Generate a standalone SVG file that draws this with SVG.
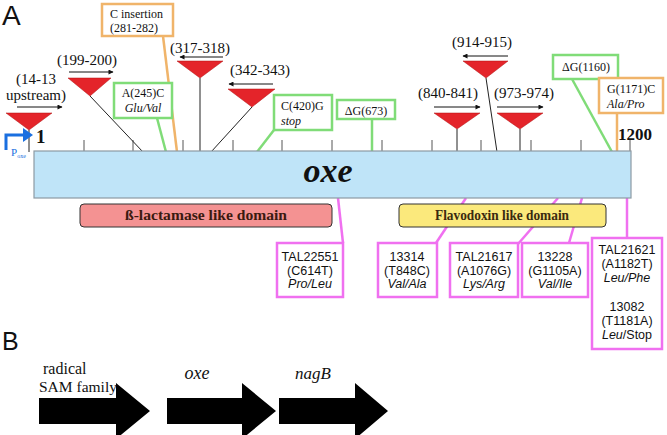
<svg xmlns="http://www.w3.org/2000/svg" width="667" height="435" viewBox="0 0 667 435">
<defs>
<marker id="ah" viewBox="0 0 10 10" refX="9" refY="5" markerWidth="6" markerHeight="5" orient="auto" markerUnits="userSpaceOnUse">
<path d="M0,0 L10,5 L0,10 z" fill="#111"/>
</marker>
<style>
.lbl{font-family:"Liberation Serif",serif;font-size:15px;fill:#111;text-anchor:middle}
.bx{font-family:"Liberation Serif",serif;font-size:12px;fill:#111}
.it{font-style:italic}
.sans{font-family:"Liberation Sans",Arial,sans-serif;font-size:12.5px;fill:#111;text-anchor:middle}
.tri{fill:#e4242a;stroke:#b01010;stroke-width:0.5}
.stem{stroke:#222;stroke-width:1;fill:none}
.tick{stroke:#555;stroke-width:1}
.arr{stroke:#111;stroke-width:1;fill:none;marker-end:url(#ah)}
.gb{fill:#fff;stroke:#80dc78;stroke-width:2.5}
.ob{fill:#fff;stroke:#f0b46a;stroke-width:2.5}
.pb{fill:#fff;stroke:#f070f0;stroke-width:2.5}
.gl{stroke:#80dc78;stroke-width:2.5;fill:none}
.ol{stroke:#f0b46a;stroke-width:2.5;fill:none}
.pl{stroke:#f070f0;stroke-width:2.5;fill:none}
.big{fill:#000}
</style>
</defs>
<rect width="667" height="435" fill="#fff"/>
<text x="2" y="25" font-family="Liberation Sans,Arial,sans-serif" font-size="28" fill="#111">A</text>
<text x="2" y="350" font-family="Liberation Sans,Arial,sans-serif" font-size="25" fill="#111">B</text>

<g id="connectors">
<line class="tick" x1="84" y1="140" x2="84" y2="152"/>
<line class="tick" x1="133" y1="140" x2="133" y2="152"/>
<line class="tick" x1="183" y1="140" x2="183" y2="152"/>
<line class="tick" x1="233" y1="140" x2="233" y2="152"/>
<line class="tick" x1="282" y1="140" x2="282" y2="152"/>
<line class="tick" x1="332" y1="140" x2="332" y2="152"/>
<line class="tick" x1="382" y1="140" x2="382" y2="152"/>
<line class="tick" x1="432" y1="140" x2="432" y2="152"/>
<line class="tick" x1="481" y1="140" x2="481" y2="152"/>
<line class="tick" x1="531" y1="140" x2="531" y2="152"/>
<line class="tick" x1="581" y1="140" x2="581" y2="152"/>
<line class="tick" x1="630" y1="140" x2="630" y2="152"/>
<line class="stem" x1="29" y1="130" x2="29" y2="152"/>
<line class="stem" x1="90" y1="96" x2="143" y2="152"/>
<line class="stem" x1="200" y1="78" x2="200" y2="152"/>
<line class="stem" x1="252" y1="107" x2="211" y2="152"/>
<line class="stem" x1="457" y1="129" x2="457" y2="152"/>
<line class="stem" x1="486" y1="78" x2="497" y2="152"/>
<line class="stem" x1="520" y1="129" x2="520" y2="152"/>
<line class="ol" x1="163" y1="36" x2="177" y2="152"/>
<line class="gl" x1="157" y1="118" x2="166" y2="152"/>
<line class="gl" x1="274" y1="130" x2="257" y2="152"/>
<line class="gl" x1="372" y1="119" x2="372" y2="152"/>
<line class="gl" x1="572" y1="79" x2="612" y2="152"/>
<line class="ol" x1="617" y1="113" x2="617" y2="152"/>
<line class="pl" x1="338" y1="198" x2="343" y2="243"/>
<line class="pl" x1="466" y1="198" x2="436" y2="243"/>
<line class="pl" x1="558" y1="198" x2="518" y2="244"/>
<line class="pl" x1="582" y1="198" x2="569" y2="243"/>
<line class="pl" x1="627" y1="198" x2="627" y2="238"/>
<line class="arr" x1="17" y1="107" x2="62" y2="107"/>
<line class="arr" x1="69" y1="72" x2="113" y2="72"/>
<line class="arr" x1="223" y1="57" x2="180" y2="57"/>
<line class="arr" x1="273" y1="84" x2="229" y2="84"/>
<line class="arr" x1="434" y1="107" x2="480" y2="107"/>
<line class="arr" x1="508" y1="56" x2="463" y2="56"/>
<line class="arr" x1="497" y1="107" x2="543" y2="107"/>
</g>

<g id="gene-oxe">
<rect x="34" y="151" width="597" height="47" fill="#bfe4f8" stroke="#8d9aa3" stroke-width="1.2"/>
<text x="328" y="182" font-family="Liberation Serif,serif" font-size="34" font-weight="bold" font-style="italic" text-anchor="middle" fill="#111">oxe</text>
<text x="36" y="143" font-family="Liberation Serif,serif" font-size="19" font-weight="bold" fill="#111">1</text>
<text x="618" y="140" font-family="Liberation Serif,serif" font-size="17" font-weight="bold" fill="#111">1200</text>
</g>

<g id="promoter">
<path d="M6,150 L6,135 L24,135" stroke="#1a6fe0" stroke-width="3" fill="none"/>
<path d="M23,128 L33,135 L23,142 z" fill="#1a6fe0"/>
<text x="11" y="156" font-family="Liberation Serif,serif" font-size="11" fill="#1a6fe0">P<tspan font-size="6" dy="2">oxe</tspan></text>
</g>

<g id="domain-lactamase">
<rect x="80" y="204" width="252" height="23" rx="4" fill="#f49292" stroke="#333" stroke-width="1"/>
<text x="206" y="220" font-family="Liberation Serif,serif" font-size="15" font-weight="bold" fill="#3a1a10" text-anchor="middle" textLength="162" lengthAdjust="spacingAndGlyphs">ß-lactamase like domain</text>
</g>
<g id="domain-flavodoxin">
<rect x="399" y="204" width="207" height="23" rx="4" fill="#fbe97c" stroke="#333" stroke-width="1"/>
<text x="502" y="220" font-family="Liberation Serif,serif" font-size="14" font-weight="bold" fill="#3a2a10" text-anchor="middle" textLength="134" lengthAdjust="spacingAndGlyphs">Flavodoxin like domain</text>
</g>

<g id="ins-14-13">
<path class="tri" d="M6,113 L52,113 L29,130 z"/>
<text class="lbl" x="36" y="84">(14-13</text>
<text class="lbl" x="36" y="100" font-size="12">upstream)</text>
</g>
<g id="ins-199-200">
<path class="tri" d="M68,78 L111,78 L90,96 z"/>
<text class="lbl" x="87" y="65">(199-200)</text>
</g>
<g id="ins-317-318">
<path class="tri" d="M177,61 L223,61 L200,78 z"/>
<text class="lbl" x="200" y="53">(317-318)</text>
</g>
<g id="ins-342-343">
<path class="tri" d="M228,89 L275,89 L252,107 z"/>
<text class="lbl" x="260" y="75">(342-343)</text>
</g>
<g id="ins-840-841">
<path class="tri" d="M434,113 L480,113 L457,129 z"/>
<text class="lbl" x="448" y="98">(840-841)</text>
</g>
<g id="ins-914-915">
<path class="tri" d="M463,61 L508,61 L486,78 z"/>
<text class="lbl" x="482" y="47">(914-915)</text>
</g>
<g id="ins-973-974">
<path class="tri" d="M497,113 L543,113 L520,129 z"/>
<text class="lbl" x="524" y="98">(973-974)</text>
</g>

<g id="c-insertion">
<rect class="ob" x="102" y="4" width="71" height="32"/>
<text class="bx" x="110" y="18">C insertion</text>
<text class="bx" x="110" y="32">(281-282)</text>
</g>
<g id="a245c">
<rect class="gb" x="114" y="83" width="58" height="35"/>
<text class="bx" x="143" y="97" text-anchor="middle">A(245)C</text>
<text class="bx it" x="143" y="111.5" text-anchor="middle">Glu/Val</text>
</g>
<g id="c420g">
<rect class="gb" x="274" y="95" width="58" height="35"/>
<text class="bx" x="281" y="110">C(420)G</text>
<text class="bx it" x="281" y="124.5">stop</text>
</g>
<g id="dg673">
<rect class="gb" x="337" y="100" width="58" height="19"/>
<text class="bx" x="366" y="114.5" text-anchor="middle">ΔG(673)</text>
</g>
<g id="dg1160">
<rect class="gb" x="553" y="55" width="65" height="24"/>
<text class="bx" x="586" y="71" text-anchor="middle">ΔG(1160)</text>
</g>
<g id="g1171c">
<rect class="ob" x="599" y="78" width="64" height="35"/>
<text class="bx" x="607" y="93">G(1171)C</text>
<text class="bx it" x="607" y="107.5">Ala/Pro</text>
</g>

<g id="tal22551">
<rect class="pb" x="277" y="243" width="66" height="54"/>
<text class="sans" x="310" y="261" font-size="11.5">TAL22551</text>
<text class="sans" x="310" y="275" font-size="11.5">(C614T)</text>
<text class="sans it" x="310" y="288" font-size="11.5">Pro/Leu</text>
</g>
<g id="m13314">
<rect class="pb" x="378" y="243" width="59" height="54"/>
<text class="sans" x="407" y="261">13314</text>
<text class="sans" x="407" y="275">(T848C)</text>
<text class="sans it" x="407" y="288">Val/Ala</text>
</g>
<g id="tal21617">
<rect class="pb" x="450" y="243" width="68" height="54"/>
<text class="sans" x="484" y="261">TAL21617</text>
<text class="sans" x="484" y="275">(A1076G)</text>
<text class="sans it" x="484" y="288">Lys/Arg</text>
</g>
<g id="m13228">
<rect class="pb" x="522" y="243" width="66" height="54"/>
<text class="sans" x="555" y="261">13228</text>
<text class="sans" x="555" y="275">(G1105A)</text>
<text class="sans it" x="555" y="288">Val/Ile</text>
</g>
<g id="tal21621">
<rect class="pb" x="592" y="238" width="70" height="111"/>
<text class="sans" x="627" y="254">TAL21621</text>
<text class="sans" x="627" y="268">(A1182T)</text>
<text class="sans it" x="627" y="282">Leu/Phe</text>
<text class="sans" x="627" y="311">13082</text>
<text class="sans" x="627" y="325">(T1181A)</text>
<text class="sans" x="627" y="339"><tspan font-style="italic">Leu</tspan>/Stop</text>
</g>

<g id="gene-radical-sam">
<path class="big" d="M39,398 L116,398 L116,383 L150,411 L116,439 L116,424 L39,424 z"/>
<text x="43" y="374" font-family="Liberation Serif,serif" font-size="16" fill="#111">radical</text>
<text x="39" y="392" font-family="Liberation Serif,serif" font-size="15.5" fill="#111">SAM family</text>
</g>
<g id="gene-oxe-b">
<path class="big" d="M167,398 L242,398 L242,383 L276,411 L242,439 L242,424 L167,424 z"/>
<text x="197" y="379" font-family="Liberation Serif,serif" font-size="18" font-style="italic" text-anchor="middle" fill="#111">oxe</text>
</g>
<g id="gene-nagB">
<path class="big" d="M279,398 L355,398 L355,383 L388,411 L355,439 L355,424 L279,424 z"/>
<text x="313" y="379" font-family="Liberation Serif,serif" font-size="17" font-style="italic" text-anchor="middle" fill="#111">nagB</text>
</g>
</svg>
